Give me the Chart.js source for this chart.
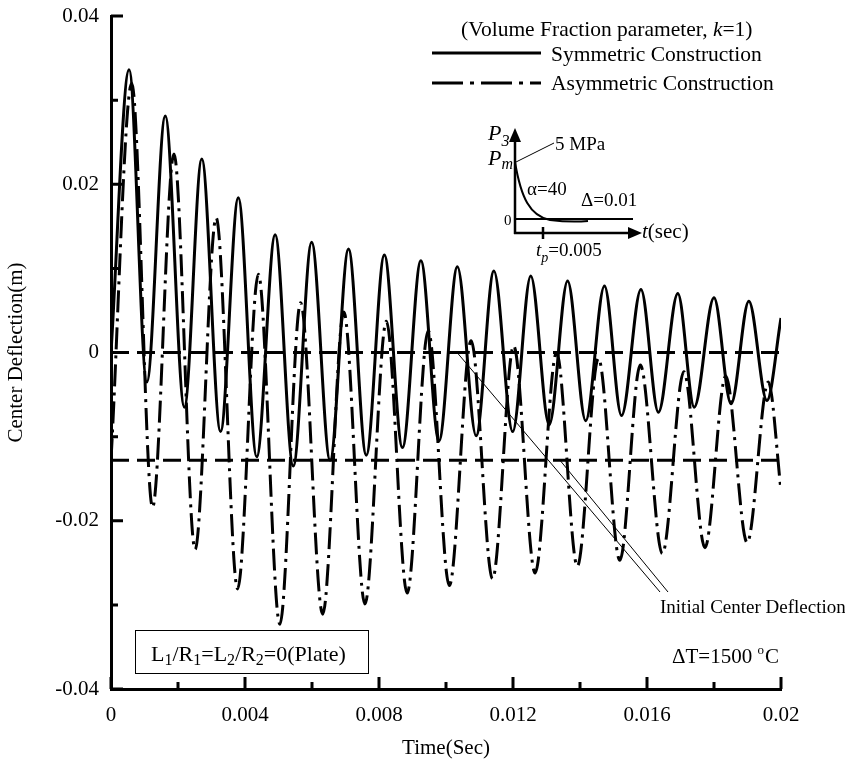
<!DOCTYPE html>
<html>
<head>
<meta charset="utf-8">
<script src="https://cdn.jsdelivr.net/npm/chart.js@4.4.1/dist/chart.umd.min.js"></script>
<style>
  body { margin: 0; background: #fff; }
  #wrap { width: 845px; height: 764px; }
</style>
</head>
<body>
<div id="wrap"><canvas id="deflChart" width="845" height="764"></canvas></div>
<script>
const SERIF = '"Liberation Serif", "Times New Roman", serif';

// symmetric construction (solid line): start, peaks / troughs, end
const symTime = [0, 0.00054, 0.00107, 0.00162, 0.00219, 0.00271, 0.00327, 0.00380, 0.00435, 0.00490,
  0.00544, 0.00599, 0.00654, 0.00709, 0.00762, 0.00816, 0.00870, 0.00925, 0.00979, 0.01034,
  0.01090, 0.01143, 0.01199, 0.01253, 0.01308, 0.01363, 0.01417, 0.01473, 0.01524, 0.01582,
  0.01634, 0.01692, 0.01741, 0.01800, 0.01851, 0.01904, 0.01958, 0.02];
const symDefl = [0, 0.0336, -0.0035, 0.0281, -0.0065, 0.0230, -0.0094, 0.0184, -0.0124, 0.0140,
  -0.0135, 0.0131, -0.0128, 0.0123, -0.0122, 0.0116, -0.0113, 0.0109, -0.0105, 0.0102,
  -0.0099, 0.0097, -0.0094, 0.0091, -0.0086, 0.0085, -0.0081, 0.0079, -0.0075, 0.0075,
  -0.0071, 0.0070, -0.0065, 0.0065, -0.0061, 0.0061, -0.0057, 0.0041];

// asymmetric construction (dash-dot line)
const asymTime = [0, 0.00062, 0.00124, 0.00188, 0.00251, 0.00314, 0.00378, 0.00440, 0.00504, 0.00566,
  0.00632, 0.00695, 0.00758, 0.00822, 0.00884, 0.00947, 0.01010, 0.01075, 0.01139, 0.01202,
  0.01266, 0.01330, 0.01392, 0.01455, 0.01519, 0.01580, 0.01646, 0.01710, 0.01773, 0.01835,
  0.01899, 0.01962, 0.02];
const asymDefl = [-0.0128, 0.0320, -0.0184, 0.0236, -0.0234, 0.0160, -0.0281, 0.0093, -0.0323, 0.0059,
  -0.0311, 0.0048, -0.0299, 0.0037, -0.0286, 0.0026, -0.0277, 0.0014, -0.0269, 0.0008,
  -0.0262, 0.0000, -0.0254, -0.0007, -0.0247, -0.0015, -0.0239, -0.0023, -0.0232, -0.0028,
  -0.0226, -0.0035, -0.0164];

// initial center deflection levels (sym, asym) and where the leader lines touch them
const initLevels = [0, -0.0128];
const leaderTimes = [0.01033, 0.0134];

const xMajor = [0, 0.004, 0.008, 0.012, 0.016, 0.02];
const xMinor = [0.002, 0.006, 0.010, 0.014, 0.018];
const xLabels = ['0', '0.004', '0.008', '0.012', '0.016', '0.02'];
const yMajor = [-0.04, -0.02, 0, 0.02, 0.04];
const yMinor = [-0.03, -0.01, 0.01, 0.03];
const yLabels = ['-0.04', '-0.02', '0', '0.02', '0.04'];

function pts(xs, ys) {
  return xs.map((x, i) => ({ x: x, y: ys[i] }));
}

function runs(ctx, x, y, parts) {
  parts.forEach(p => {
    ctx.font = (p.it ? 'italic ' : '') + p.size + 'px ' + SERIF;
    ctx.fillText(p.t, x, y + (p.dy || 0));
    x += ctx.measureText(p.t).width;
  });
  return x;
}

function drawInset(ctx) {
  ctx.save();
  ctx.strokeStyle = '#000';
  ctx.fillStyle = '#000';
  ctx.lineWidth = 2.5;
  ctx.beginPath();
  ctx.moveTo(515, 234); ctx.lineTo(515, 140);
  ctx.moveTo(514, 233); ctx.lineTo(630, 233);
  ctx.moveTo(543, 227); ctx.lineTo(543, 239);
  ctx.stroke();
  ctx.beginPath();
  ctx.moveTo(515, 128); ctx.lineTo(509, 142); ctx.lineTo(521, 142); ctx.closePath(); ctx.fill();
  ctx.beginPath();
  ctx.moveTo(642, 233); ctx.lineTo(628, 227); ctx.lineTo(628, 239); ctx.closePath(); ctx.fill();
  ctx.lineWidth = 2;
  ctx.beginPath(); ctx.moveTo(515, 219); ctx.lineTo(633, 219); ctx.stroke();
  ctx.beginPath();
  ctx.moveTo(515, 162);
  ctx.bezierCurveTo(521, 198, 530, 216, 550, 220);
  ctx.quadraticCurveTo(570, 222.5, 588, 221);
  ctx.stroke();
  ctx.lineWidth = 1;
  ctx.beginPath(); ctx.moveTo(516, 162); ctx.lineTo(554, 143); ctx.stroke();

  ctx.textAlign = 'left';
  ctx.textBaseline = 'alphabetic';
  runs(ctx, 488, 140, [{ t: 'P', size: 22, it: true }, { t: '3', size: 16, it: true, dy: 6 }]);
  runs(ctx, 488, 165, [{ t: 'P', size: 22, it: true }, { t: 'm', size: 16, it: true, dy: 4 }]);
  runs(ctx, 555, 150, [{ t: '5 MPa', size: 19 }]);
  runs(ctx, 527, 195, [{ t: '\u03b1=40', size: 19 }]);
  runs(ctx, 581, 206, [{ t: '\u0394=0.01', size: 19 }]);
  runs(ctx, 504, 225, [{ t: '0', size: 15 }]);
  runs(ctx, 642, 238, [{ t: 't', size: 21, it: true }, { t: '(sec)', size: 21 }]);
  runs(ctx, 536, 256, [{ t: 't', size: 19, it: true }, { t: 'p', size: 14, it: true, dy: 6 }, { t: '=0.005', size: 19 }]);
  ctx.restore();
}

const decor = {
  id: 'decor',
  afterDatasetsDraw(chart) {
    const ctx = chart.ctx;
    const xs = chart.scales.x, ys = chart.scales.y;
    const a = chart.chartArea;
    ctx.save();
    ctx.strokeStyle = '#000';
    ctx.fillStyle = '#000';
    ctx.lineCap = 'butt';

    // inward tick marks
    ctx.lineWidth = 3;
    ctx.beginPath();
    xMajor.forEach(v => { const p = xs.getPixelForValue(v); ctx.moveTo(p, a.bottom); ctx.lineTo(p, a.bottom - 12); });
    xMinor.forEach(v => { const p = xs.getPixelForValue(v); ctx.moveTo(p, a.bottom); ctx.lineTo(p, a.bottom - 7); });
    yMajor.forEach(v => { const p = ys.getPixelForValue(v); ctx.moveTo(a.left, p); ctx.lineTo(a.left + 12, p); });
    yMinor.forEach(v => { const p = ys.getPixelForValue(v); ctx.moveTo(a.left, p); ctx.lineTo(a.left + 7, p); });
    ctx.stroke();

    // legend
    ctx.lineWidth = 3;
    ctx.beginPath(); ctx.moveTo(432, 53); ctx.lineTo(541, 53); ctx.stroke();
    ctx.setLineDash([31, 7, 4, 7]);
    ctx.beginPath(); ctx.moveTo(432, 83); ctx.lineTo(541, 83); ctx.stroke();
    ctx.setLineDash([]);
    ctx.textAlign = 'left';
    ctx.textBaseline = 'alphabetic';
    runs(ctx, 461, 36, [{ t: '(Volume Fraction parameter, ', size: 21.5 }, { t: 'k', size: 21.5, it: true }, { t: '=1)', size: 21.5 }]);
    runs(ctx, 551, 61, [{ t: 'Symmetric Construction', size: 21.5 }]);
    runs(ctx, 551, 90, [{ t: 'Asymmetric Construction', size: 21.5 }]);

    drawInset(ctx);

    // leader lines to the initial deflection levels
    ctx.lineWidth = 1;
    ctx.beginPath();
    ctx.moveTo(xs.getPixelForValue(leaderTimes[0]), ys.getPixelForValue(initLevels[0]));
    ctx.lineTo(660, 592);
    ctx.moveTo(xs.getPixelForValue(leaderTimes[1]), ys.getPixelForValue(initLevels[1]));
    ctx.lineTo(668, 592);
    ctx.stroke();
    runs(ctx, 660, 613, [{ t: 'Initial Center Deflection', size: 19 }]);

    // temperature note
    ctx.textAlign = 'left';
    let tx = 672;
    tx = runs(ctx, tx, 663, [{ t: '\u0394T=1500 ', size: 21 }]);
    tx = runs(ctx, tx, 663, [{ t: 'o', size: 13, dy: -9 }]);
    runs(ctx, tx + 1, 663, [{ t: 'C', size: 21 }]);

    // geometry box
    ctx.fillStyle = '#fff';
    ctx.fillRect(135, 631, 233, 42);
    ctx.strokeStyle = '#000';
    ctx.lineWidth = 1;
    ctx.strokeRect(135.5, 630.5, 233, 43);
    ctx.fillStyle = '#000';
    runs(ctx, 151, 661, [
      { t: 'L', size: 22 }, { t: '1', size: 16, dy: 4 }, { t: '/', size: 22 },
      { t: 'R', size: 22 }, { t: '1', size: 16, dy: 4 }, { t: '=L', size: 22 },
      { t: '2', size: 16, dy: 4 }, { t: '/', size: 22 }, { t: 'R', size: 22 },
      { t: '2', size: 16, dy: 4 }, { t: '=0(Plate)', size: 22 }
    ]);
    ctx.restore();
  }
};

const refLine = (lvl) => ({
  data: [{ x: 0, y: lvl }, { x: 0.02, y: lvl }],
  borderColor: '#000',
  borderWidth: 3,
  borderDash: [18, 8],
  pointRadius: 0,
  fill: false
});

const chart = new Chart(document.getElementById('deflChart'), {
  type: 'line',
  data: {
    datasets: [
      {
        label: 'Symmetric Construction',
        data: pts(symTime, symDefl),
        borderColor: '#000',
        borderWidth: 3,
        pointRadius: 0,
        cubicInterpolationMode: 'monotone',
        fill: false
      },
      {
        label: 'Asymmetric Construction',
        data: pts(asymTime, asymDefl),
        borderColor: '#000',
        borderWidth: 3,
        borderDash: [22, 6, 3, 6],
        pointRadius: 0,
        cubicInterpolationMode: 'monotone',
        fill: false
      },
      refLine(initLevels[0]),
      refLine(initLevels[1])
    ]
  },
  options: {
    responsive: false,
    animation: false,
    devicePixelRatio: 1,
    layout: { padding: { left: 0, top: 16, right: 64, bottom: 0 } },
    plugins: { legend: { display: false }, tooltip: { enabled: false } },
    scales: {
      x: {
        type: 'linear',
        min: 0,
        max: 0.02,
        afterFit: s => { s.height = 75; s.paddingLeft = 0; s.paddingRight = 0; },
        afterBuildTicks: s => { s.ticks = xMajor.map(v => ({ value: v })); },
        grid: { display: false, drawTicks: false },
        border: { display: true, color: '#000', width: 3 },
        ticks: {
          padding: 14,
          maxRotation: 0,
          color: '#000',
          font: { family: SERIF, size: 21 },
          callback: v => xLabels[xMajor.indexOf(v)]
        },
        title: {
          display: true,
          text: 'Time(Sec)',
          color: '#000',
          font: { family: SERIF, size: 21 },
          padding: { top: 0, bottom: 3 }
        }
      },
      y: {
        type: 'linear',
        min: -0.04,
        max: 0.04,
        afterFit: s => { s.width = 111; s.paddingTop = 0; s.paddingBottom = 0; },
        afterBuildTicks: s => { s.ticks = yMajor.map(v => ({ value: v })); },
        grid: { display: false, drawTicks: false },
        border: { display: true, color: '#000', width: 3 },
        ticks: {
          padding: 12,
          color: '#000',
          font: { family: SERIF, size: 21 },
          callback: v => yLabels[yMajor.indexOf(v)]
        },
        title: {
          display: true,
          text: 'Center Deflection(m)',
          color: '#000',
          font: { family: SERIF, size: 21 },
          padding: { top: 4, bottom: 0 }
        }
      }
    }
  },
  plugins: [decor]
});
</script>
</body>
</html>
